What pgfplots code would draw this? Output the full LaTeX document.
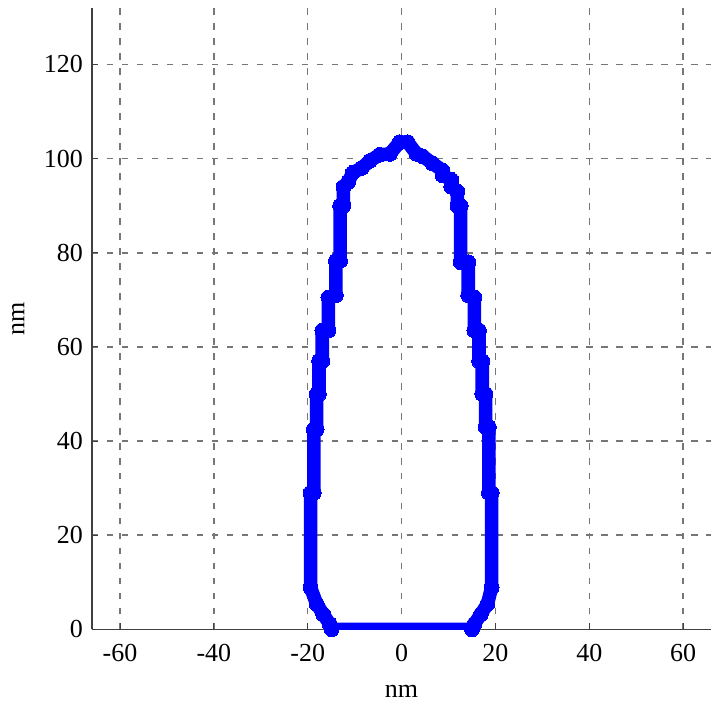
\documentclass[border=0pt]{standalone}
\usepackage{fontspec}
\setmainfont{Liberation Serif}
\usepackage{pgfplots}
\pgfplotsset{compat=1.18}
\usetikzlibrary{calc}
\definecolor{gridgray}{RGB}{118,118,118}
\begin{document}
\begin{tikzpicture}
\begin{axis}[
  width=310pt, height=311pt, scale only axis,
  xmin=-66, xmax=66, ymin=0, ymax=132,
  xtick={-60,-40,...,60}, ytick={0,20,...,120},
  axis lines=left, axis line style={-, line width=0.6pt, color=black!75},
  tick style={line width=0.5pt, color=black!75}, tick align=inside, major tick length=3pt,
  grid=major, major grid style={gridgray, line width=0.75pt, dash pattern=on 3.3pt off 4.2pt},
  font=\fontsize{13}{15}\selectfont,
  /pgf/number format/assume math mode=true,
  xticklabel style={yshift=-4pt},
  yticklabel style={xshift=-1pt},
  xlabel={nm}, ylabel={nm},
  xlabel style={at={(axis description cs:0.5,-0.1)}, anchor=center},
  ylabel style={at={(axis description cs:-0.119,0.5)}, anchor=center},
]
\addplot[blue, line width=6.8pt, line join=round, line cap=round,
  mark=*, mark size=3.7pt, mark options={solid, line width=0pt, fill=blue, draw=blue}] coordinates {
(-14.9,0) (15,0) (15.5,1.1) (16.9,3.2) (18.3,5.4) (19.2,8.9)
(19.2,29) (18.6,29) (18.6,43) (17.9,43) (17.9,50) (17.2,50) (17.2,57)
(16.5,57) (16.5,63.5) (15.5,63.5) (15.5,70.5) (14.2,71) (14.2,78)
(12.6,78) (12.6,90) (11.9,90) (11.9,93) (10.6,94) (10.6,95.5)
(8.7,96.5) (8.7,97.5) (6.6,99) (4.5,100.5) (3.2,101) (1.3,103.5) (-0.4,103.5)
(-2.5,101) (-4.7,100.8) (-6.8,99.5) (-8.5,98) (-10.4,97) (-11.4,95)
(-12.4,94) (-12.4,90) (-13.1,90) (-13.1,78.3) (-14,78.3) (-14,71)
(-15.6,70.5) (-15.6,63.5) (-16.9,63.5) (-16.9,57) (-17.6,57) (-17.6,50)
(-18.1,50) (-18.1,42.5) (-18.7,42.5) (-18.7,29) (-19.4,29) (-19.4,8.9)
(-18.1,5.4) (-16.7,3.2) (-15.3,1.1) (-14.9,0)
};
\end{axis}
\useasboundingbox ($(current axis.south west)+(-46pt,-35pt)$) rectangle ($(current axis.north east)+(0pt,4pt)$);
\end{tikzpicture}
\end{document}
